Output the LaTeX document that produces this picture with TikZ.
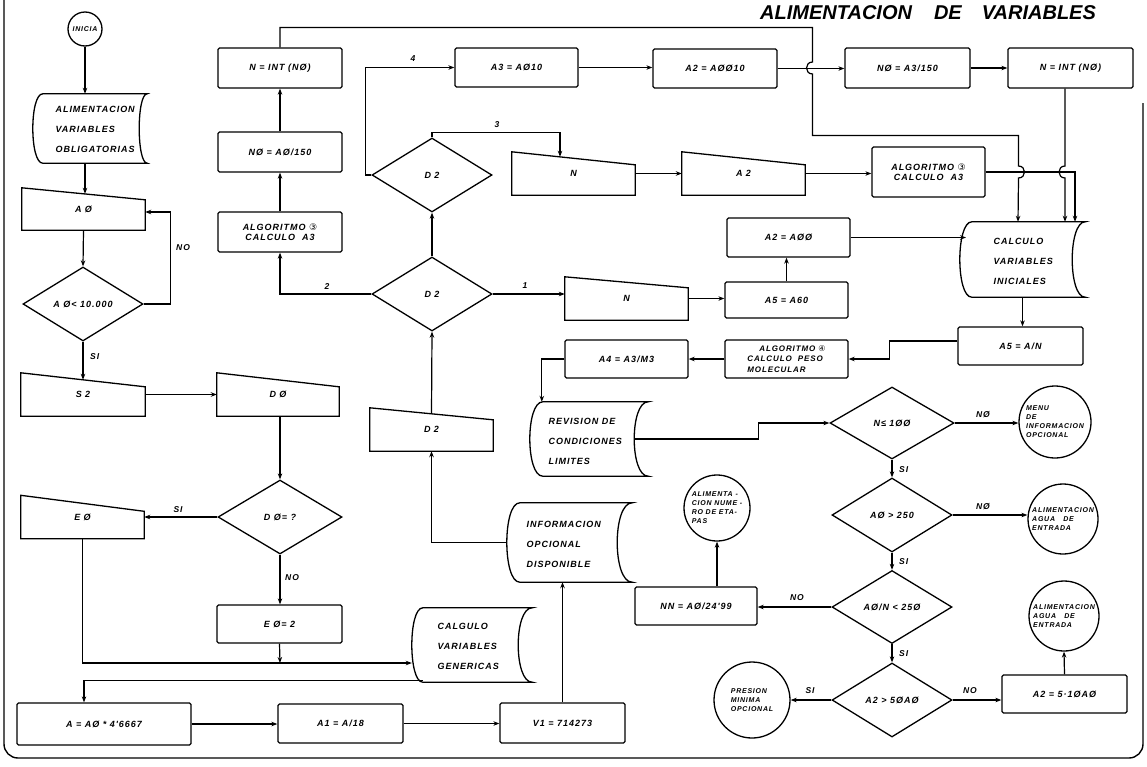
\documentclass[tikz,border=0pt]{standalone}
\usepackage{fontspec}
\newfontfamily\lblfont[LetterSpace=11]{Liberation Sans}
\newfontfamily\ttlfont{Liberation Sans}
\newfontfamily\djv{DejaVu Sans}
\usetikzlibrary{shapes.geometric,arrows.meta,calc}
\newcommand\cnum[1]{{\djv\mdseries\upshape #1}}
% manual input shape around an invisible node: #1 name, #2 drop of the top edge
\newcommand\mishape[2]{\draw[shp] (#1.south west) -- (#1.north west) -- ([yshift=-#2pt]#1.north east) -- (#1.south east) -- cycle;}
% stored data shape: #1 name, #2 left bulge, #3 right concave depth
\newcommand\sdshape[3]{\draw[shp] ([xshift=#2pt]#1.north west) -- (#1.north east) .. controls ([xshift=-#3*1.333pt]#1.north east) and ([xshift=-#3*1.333pt]#1.south east) .. (#1.south east) -- ([xshift=#2pt]#1.south west) .. controls ([xshift=-#2*0.333pt]#1.south west) and ([xshift=-#2*0.333pt]#1.north west) .. cycle;}
\begin{document}
\begin{tikzpicture}[x=1pt,y=-1pt,
  shp/.style={draw=black,line width=1.3pt},
  txt/.style={font=\lblfont\bfseries\itshape\fontsize{9}{10.5}\selectfont, text=black},
  ptxt/.style={font=\lblfont\bfseries\itshape\fontsize{7}{9}\selectfont, text=black, align=left},
  box/.style={shp, txt, rectangle, rounded corners=1.5pt, inner sep=0pt, align=center},
  ghost/.style={txt, rectangle, inner sep=0pt, align=center},
  dia/.style={shp, txt, diamond, inner sep=0pt, minimum width=120pt, minimum height=74pt},
  term/.style={shp, ptxt, circle, inner sep=0pt},
  arr/.style={draw=black, line width=1.2pt, -{Stealth[length=6pt,width=4.5pt]}},
  lab/.style={font=\lblfont\bfseries\itshape\fontsize{8.5}{9}\selectfont, inner sep=1pt},
  sdt/.style={font=\lblfont\bfseries\itshape\fontsize{9}{20}\selectfont, align=left, anchor=west},
]
\useasboundingbox (0,0) rectangle (1147,766);
\draw[line width=1.4pt, rounded corners=14pt] (4,0) -- (4,758) -- (1143,758) -- (1143,103);

\node[font=\ttlfont\bfseries\itshape\fontsize{20}{22}\selectfont, anchor=west, inner sep=0pt] (title) at (760,13) {ALIMENTACION\hspace{22pt}DE\hspace{20pt}VARIABLES};

% helper coordinates
\coordinate (x85) at (85,0);
\coordinate (x966) at (966,0);
\coordinate (x1018) at (1018,0);
\coordinate (x1065) at (1065,0);
\coordinate (x1075) at (1075,0);
\coordinate (j1) at (280,663);

% left column
\node[term, minimum size=34pt] (inicia) at (85,29) {INICIA};
\node[ghost, minimum width=114pt, minimum height=69pt] (alim) at (90,128.5) {};
\node[sdt] (alimt) at (52,129) {ALIMENTACION\\VARIABLES\\OBLIGATORIAS};
\node[ghost, minimum width=123pt, minimum height=42pt] (ai) at (83.5,209) {A Ø};
\node[dia] (d1) at (83,304) {A Ø< 10.000};
\node[ghost, minimum width=124pt, minimum height=43pt] (s2) at (83,394.5) {S 2};
\node[ghost, minimum width=122pt, minimum height=43pt] (d0) at (278,394.5) {D Ø};
\node[dia, minimum width=124pt] (dq) at (280,517) {D Ø= ?};
\node[ghost, minimum width=123pt, minimum height=43pt] (e0) at (82.5,517) {E Ø};
\node[box, minimum width=125pt, minimum height=38pt] (e2) at (279.5,624) {E Ø= 2};
\node[ghost, minimum width=120pt, minimum height=74pt] (calg) at (472,645) {};
\node[sdt] (calgt) at (434,646) {CALGULO\\VARIABLES\\GENERICAS};
\node[box, minimum width=174pt, minimum height=42pt] (abox) at (104,724) {A = AØ * 4'6667};
\node[box, minimum width=125pt, minimum height=39pt] (a1) at (340.5,723.5) {A1 = A/18};
\node[box, minimum width=125pt, minimum height=40pt] (v1) at (562.5,723) {V1 = 714273};
\node[ghost, minimum width=125pt, minimum height=79pt] (info) at (569.5,542.5) {};
\node[sdt] (infot) at (523,544) {INFORMACION\\OPCIONAL\\DISPONIBLE};

% D2 column
\node[ghost, minimum width=123pt, minimum height=43pt] (d2c) at (431.5,429.5) {D 2};
\node[dia] (d2b) at (432,294) {D 2};
\node[dia] (d2a) at (432,175) {D 2};
\node[box, minimum width=124pt, minimum height=40pt] (alg3a) at (280,232) {ALGORITMO \cnum{③}\\CALCULO\ \ A3};
\node[box, minimum width=124pt, minimum height=40pt] (n0a) at (280,152) {NØ = AØ/150};
\node[box, minimum width=124pt, minimum height=40pt] (ninta) at (280,68) {N = INT (NØ)};

% top row
\node[box, minimum width=123pt, minimum height=39pt] (a3) at (516.5,67.5) {A3 = AØ10};
\node[box, minimum width=124pt, minimum height=39pt] (a2t) at (715,68.5) {A2 = AØØ10};
\node[box, minimum width=125pt, minimum height=40pt] (n0b) at (907.5,68) {NØ = A3/150};
\node[box, minimum width=125pt, minimum height=40pt] (nintb) at (1070.5,68) {N = INT (NØ)};

% second row
\node[ghost, minimum width=123pt, minimum height=43pt] (nup) at (573.5,173.5) {N};
\node[ghost, minimum width=123pt, minimum height=43pt] (a2m) at (743.5,173.5) {A 2};
\node[box, minimum width=113pt, minimum height=50pt] (alg3b) at (928.5,172) {ALGORITMO \cnum{③}\\CALCULO\ \ A3};
\node[ghost, minimum width=125pt, minimum height=75pt] (cvi) at (1022.5,259.5) {};
\node[sdt] (cvit) at (990,261) {CALCULO\\VARIABLES\\INICIALES};
\node[box, minimum width=123pt, minimum height=39pt] (a2l) at (788.5,237.5) {A2 = AØØ};
\node[ghost, minimum width=123pt, minimum height=43pt] (nlow) at (626.5,298.5) {N};
\node[box, minimum width=123pt, minimum height=36pt] (a5) at (786.5,300) {A5 = A60};
\node[box, minimum width=123pt, minimum height=38pt] (a4) at (626.5,359) {A4 = A3/M3};
\node[box, minimum width=123pt, minimum height=38pt, align=left, font=\lblfont\bfseries\itshape\fontsize{8}{10.5}\selectfont] (alg4) at (786.5,359) {\hspace*{12pt}ALGORITMO \cnum{④}\\CALCULO\ \ PESO\\MOLECULAR};
\node[box, minimum width=125pt, minimum height=38pt] (a5n) at (1020.5,346) {A5 = A/N};
\node[ghost, minimum width=118pt, minimum height=74pt] (rev) at (589,439) {};
\node[sdt] (revt) at (545,441) {REVISION DE\\CONDICIONES\\LIMITES};

% right column
\node[dia, minimum width=124pt, minimum height=72pt] (dns) at (892,423) {N≤ 1ØØ};
\node[term, minimum size=72pt] (menu) at (1055,422) {MENU\\DE\\INFORMACION\\OPCIONAL};
\node[dia] (d250) at (892,515) {AØ > 250};
\node[term, minimum size=70pt] (agua1) at (1063,519) {ALIMENTACION\\AGUA\ \ \ DE\\ENTRADA};
\node[dia, minimum height=73pt] (dn250) at (892,607) {AØ/N < 25Ø};
\node[box, minimum width=122pt, minimum height=38pt] (nn) at (696,606) {NN = AØ/24'99};
\node[term, minimum size=66pt] (etapas) at (717,508) {ALIMENTA -\\CION NUME -\\RO DE ETA-\\PAS};
\node[dia] (da2) at (892,700) {A2 > 5ØAØ};
\node[box, minimum width=125pt, minimum height=38pt] (a2c) at (1064.5,694) {A2 = 5·1ØAØ};
\node[term, minimum size=70pt] (agua2) at (1064,616) {ALIMENTACION\\AGUA\ \ \ DE\\ENTRADA};
\node[term, minimum size=76pt] (presion) at (752,700) {PRESION\\MINIMA\\OPCIONAL};

% outlines of special shapes
\mishape{ai}{12}
\mishape{s2}{14}
\mishape{d0}{14}
\mishape{e0}{16}
\mishape{d2c}{12}
\mishape{nup}{13}
\mishape{a2m}{13}
\mishape{nlow}{11}
\sdshape{alim}{10}{8}
\sdshape{calg}{11}{14}
\sdshape{info}{13}{15}
\sdshape{cvi}{12}{13}
\sdshape{rev}{13}{14}

% connectors - left column
\draw[arr] (inicia.south) -- (x85 |- alim.north);
\draw[arr] (x85 |- alim.south) -- ($(x85 |- ai.north)+(0,6)$);
\draw[arr] (ai.south) -- (d1.north);
\draw[arr] (d1.east) -- ++(27,0) |- ([yshift=-3pt]ai.east);
\draw[arr] (d1.south) -- ($(s2.north)+(0,7)$);
\draw[arr] (s2.east) -- (d0.west);
\draw[arr] (dq.north |- d0.south) -- (dq.north);
\draw[arr] (dq.west) -- (dq.west -| e0.east);
\draw[arr] (dq.south) -- (dq.south |- e2.north);
\draw[arr] (e0.south) |- (j1) -- (j1 -| calg.west);
\draw[arr] (e2.south) -- (j1);
\draw[arr] ([xshift=11pt,yshift=2pt]calg.south west) -| ([xshift=-20pt]abox.north);
\draw[arr] (abox.east) -- (abox.east -| a1.west);
\draw[arr] (a1.east) -- (a1.east -| v1.west);
\draw[arr] (v1.north) -- (v1.north |- info.south);
\draw[arr] (info.west) -| (d2c.south);

% D2 column
\draw[arr] ([yshift=-6pt]d2c.north) -- (d2b.south);
\draw[arr] (d2b.north) -- (d2a.south);
\draw[arr] (d2b.west) -| (alg3a.south);
\draw[arr] (alg3a.north) -- (n0a.south);
\draw[arr] (n0a.north) -- (ninta.south);
\draw[arr] (ninta.north) |- (812.5,27.5) -- (812.5,62) .. controls (804.5,62) and (804.5,74) .. (812.5,74) -- (812.5,135.5) -- (1018.5,135.5) -- (1018.5,166) .. controls (1026.5,166) and (1026.5,178) .. (1018.5,178) -- (x1018 |- cvi.north);
\draw[arr] (d2a.west) -- ++(-6,0) |- (a3.west);
\draw[arr] (d2a.north) -- ++(0,-5) -| ($(nup.north)+(-13.5,5)$);

% top rows
\draw[arr] (a3.east) -- (a3.east -| a2t.west);
\draw[arr] (a2t.east) -- (a2t.east -| n0b.west);
\draw[arr] (n0b.east) -- (n0b.east -| nintb.west);
\draw[arr] (nintb.south -| x1065) -- (1065,166) .. controls (1057,166) and (1057,178) .. (1065,178) -- (x1065 |- cvi.north);
\draw[arr] (nup.east) -- (nup.east -| a2m.west);
\draw[arr] (a2m.east) -- (a2m.east -| alg3b.west);
\draw[arr] (alg3b.east) -| (x1075 |- cvi.north);
\draw[arr] (a2l.east) -- (a2l.east -| x966);
\draw[arr] (a5.north) -- (a5.north |- a2l.south);
\draw[arr] (d2b.east) -- (d2b.east -| nlow.west);
\draw[arr] (nlow.east) -- (nlow.east -| a5.west);
\draw[arr] (cvi.south) -- (cvi.south |- a5n.north);
\draw[arr] ([yshift=5pt]a5n.west) -- ++(-68,0) |- (alg4.east);
\draw[arr] (alg4.west) -- (a4.east);
\draw[arr] (a4.west) -| ([xshift=12pt]rev.north west);
\draw[arr] ([xshift=-14pt]rev.east) -- ++(124,0) |- (dns.west);

% right column
\draw[arr] (dns.east) -- (dns.east -| menu.west);
\draw[arr] (dns.south) -- (d250.north);
\draw[arr] (d250.east) -- (d250.east -| agua1.west);
\draw[arr] (d250.south) -- (dn250.north);
\draw[arr] (dn250.west) -- (dn250.west -| nn.east);
\draw[arr] (etapas.south |- nn.north) -- (etapas.south);
\draw[arr] (dn250.south) -- (da2.north);
\draw[arr] (da2.east) -- (da2.east -| a2c.west);
\draw[arr] (a2c.north) -- (agua2.south);
\draw[arr] (da2.west) -- (da2.west -| presion.east);

% branch labels
\node[lab, anchor=west] (lno1) at (175,248) {NO};
\node[lab, anchor=west] (lsi1) at (89,357) {SI};
\node[lab] (lsi2) at (178,510) {SI};
\node[lab, anchor=west] (lno2) at (284,578) {NO};
\node[lab] (l2) at (327,287) {2};
\node[lab] (l1) at (525,286) {1};
\node[lab] (l4) at (413,59) {4};
\node[lab] (l3) at (497,125) {3};
\node[lab] (lno3) at (983,415) {NØ};
\node[lab, anchor=west] (lsi3) at (898,470) {SI};
\node[lab] (lno4) at (983,507) {NØ};
\node[lab, anchor=west] (lsi4) at (898,562) {SI};
\node[lab] (lno5) at (797,598) {NO};
\node[lab, anchor=west] (lsi5) at (898,654) {SI};
\node[lab] (lno6) at (970,691) {NO};
\node[lab] (lsi6) at (810,691) {SI};
\end{tikzpicture}
\end{document}
